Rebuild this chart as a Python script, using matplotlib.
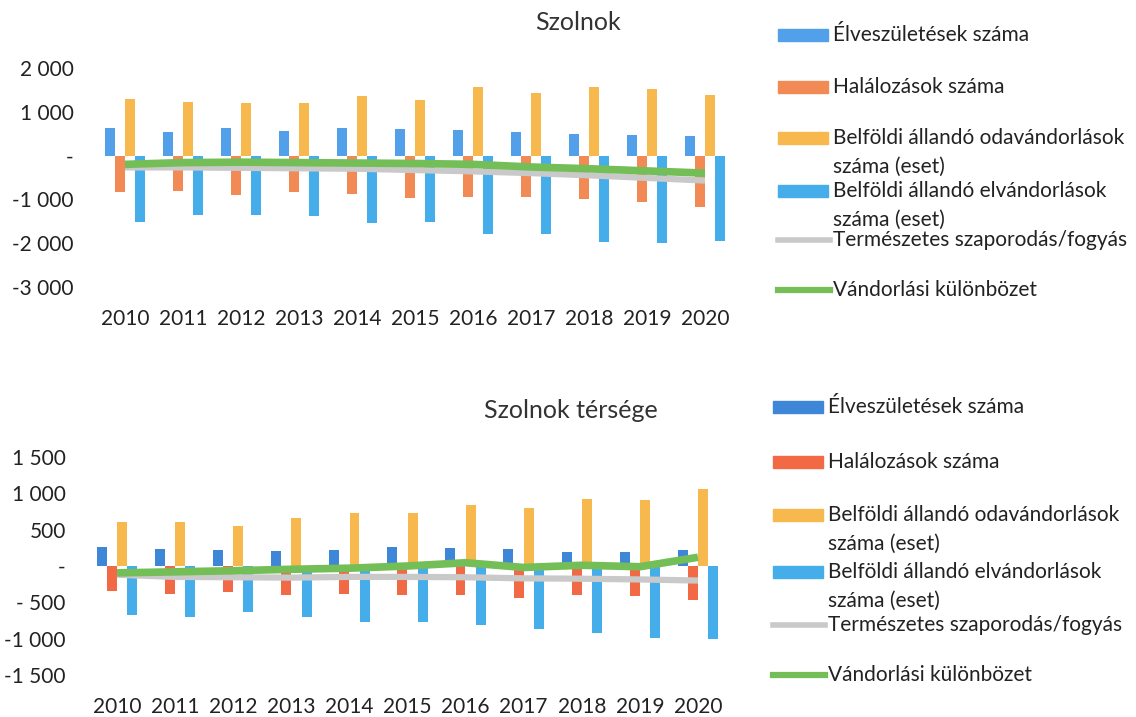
import numpy as np
import matplotlib
matplotlib.use("Agg")
import matplotlib.pyplot as plt
from matplotlib.patches import Rectangle
from matplotlib.lines import Line2D
from matplotlib.ticker import FuncFormatter, FixedLocator

plt.rcParams['font.family'] = ['Lato', 'DejaVu Sans']

years = ["2010", "2011", "2012", "2013", "2014", "2015", "2016", "2017", "2018", "2019", "2020"]

# Szolnok
szol_births = [620, 545, 620, 560, 620, 600, 575, 550, 500, 470, 445]
szol_deaths = [-835, -800, -910, -835, -875, -975, -950, -950, -1000, -1050, -1180]
szol_in = [1295, 1220, 1195, 1195, 1350, 1270, 1555, 1425, 1555, 1525, 1385]
szol_out = [-1525, -1355, -1350, -1385, -1540, -1510, -1795, -1795, -1970, -1985, -1960]
szol_natural = [-270, -270, -280, -290, -300, -330, -360, -400, -450, -510, -570]
szol_migr = [-200, -160, -150, -160, -170, -180, -200, -260, -300, -350, -400]

# Szolnok térsége
ters_births = [255, 235, 220, 210, 220, 255, 250, 240, 195, 195, 220]
ters_deaths = [-340, -385, -360, -405, -385, -405, -395, -445, -395, -415, -465]
ters_in = [600, 600, 555, 660, 725, 725, 835, 805, 920, 910, 1055]
ters_out = [-670, -695, -635, -705, -765, -765, -810, -870, -920, -985, -1010]
ters_natural = [-120, -150, -155, -160, -150, -150, -155, -170, -175, -185, -200]
ters_migr = [-95, -80, -65, -45, -30, 0, 45, -20, 10, -10, 120]

labels = ["Élveszületések száma", "Halálozások száma",
          "Belföldi állandó odavándorlások\nszáma (eset)",
          "Belföldi állandó elvándorlások\nszáma (eset)",
          "Természetes szaporodás/fogyás", "Vándorlási különbözet"]

W, H = 1136, 717
fig = plt.figure(figsize=(W / 100, H / 100), dpi=100)


def hu_fmt(v, pos):
    v = int(round(v))
    if v == 0:
        return "-"
    s = f"{abs(v):,}".replace(",", " ")
    if v < 0:
        return ("- " if abs(v) < 1000 else "-") + s
    return s


def px_axes(left, top, right, bottom):
    return fig.add_axes([left / W, 1 - bottom / H, (right - left) / W, (bottom - top) / H])


def panel(ax, data, colors, ylim, yticks):
    x = np.arange(len(years))
    bw = 0.175
    offs = [-1.5, -0.5, 0.5, 1.5]
    for vals, c, o in zip(data[:4], colors[:4], offs):
        ax.bar(x + o * bw, vals, width=bw * 0.98, color=c, zorder=2)
    ax.plot(x, data[4], color=colors[4], lw=4.5, zorder=3, solid_capstyle="butt")
    ax.plot(x, data[5], color=colors[5], lw=5.5, zorder=4, solid_capstyle="butt")
    ax.set_xlim(-0.5, len(years) - 0.5)
    ax.set_ylim(*ylim)
    ax.yaxis.set_major_locator(FixedLocator(yticks))
    ax.yaxis.set_major_formatter(FuncFormatter(hu_fmt))
    ax.set_xticks(x)
    ax.set_xticklabels(years)
    ax.tick_params(axis="both", length=0, labelsize=15, colors="#222222")
    ax.tick_params(axis="x", pad=16)
    ax.tick_params(axis="y", pad=16)
    for s in ax.spines.values():
        s.set_visible(False)


def legend(colors, x0, ys, line_gap):
    # ys: centre of first text line for each entry (pixels)
    for i, (lab, c, y) in enumerate(zip(labels, colors, ys)):
        if i < 4:
            fig.add_artist(Rectangle((x0 / W, 1 - (y + 6) / H), 50 / W, 12 / H,
                                     transform=fig.transFigure, color=c))
        else:
            fig.add_artist(Line2D([x0 / W, (x0 + 52) / W], [1 - y / H, 1 - y / H],
                                  transform=fig.transFigure, color=c,
                                  lw=4 if i == 4 else 4.5))
        lines = lab.split("\n")
        for j, t in enumerate(lines):
            fig.text((x0 + 55) / W, 1 - (y + j * line_gap) / H, t, fontsize=15,
                     color="#222222", va="center", ha="left")


top_colors = ["#52A0EA", "#F28A55", "#F7B84E", "#45AEEA", "#C9C9C9", "#74BE57"]
bot_colors = ["#3E86D8", "#F26A45", "#F7B84E", "#45AEEA", "#C9C9C9", "#74BE57"]

ax1 = px_axes(96, 68, 734, 287)
panel(ax1, [szol_births, szol_deaths, szol_in, szol_out, szol_natural, szol_migr],
      top_colors, (-3000, 2000), [-3000, -2000, -1000, 0, 1000, 2000])
fig.text(578 / W, 1 - 23 / H, "Szolnok", fontsize=18, color="#333333", ha="center", va="center")
legend(top_colors, 778, [35, 87, 138, 191, 240, 290], 29)

ax2 = px_axes(88, 457, 727, 675)
panel(ax2, [ters_births, ters_deaths, ters_in, ters_out, ters_natural, ters_migr],
      bot_colors, (-1500, 1500), [-1500, -1000, -500, 0, 500, 1000, 1500])
fig.text(571 / W, 1 - 411 / H, "Szolnok térsége", fontsize=18, color="#333333", ha="center", va="center")
legend(bot_colors, 773, [407, 462, 515, 572, 625, 675], 29)

fig.savefig("out.png", dpi=100, facecolor="white")
